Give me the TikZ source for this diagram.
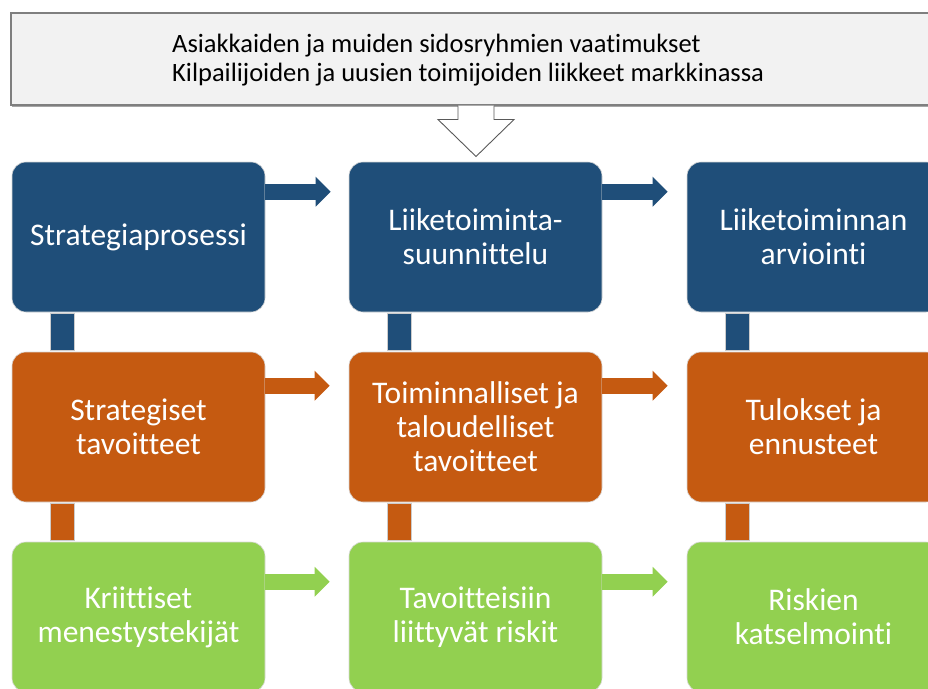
\documentclass[tikz,border=0pt]{standalone}
\usepackage{fontspec}
\setmainfont[Ligatures=NoCommon]{Carlito}
\usetikzlibrary{calc,arrows.meta}

\definecolor{planblue}{HTML}{1F4E79}
\definecolor{planorange}{HTML}{C55A11}
\definecolor{plangreen}{HTML}{92D050}
\definecolor{inputfill}{HTML}{F2F2F2}
\definecolor{inputline}{HTML}{7F7F7F}

\tikzset{
  stage/.style={rectangle, rounded corners=14pt, minimum width=253pt,
    minimum height=150pt, inner sep=0pt, draw=white!85!black, line width=0.6pt,
    text=white, align=center,
    font=\fontsize{31.5}{34}\selectfont},
  bluestage/.style={stage, fill=planblue},
  orangestage/.style={stage, fill=planorange},
  greenstage/.style={stage, fill=plangreen},
  flow/.style={line width=16pt, -{Triangle[length=15pt,width=29pt]}},
  link/.style={draw=white!80!black, line width=0.6pt},
}

\begin{document}
\begin{tikzpicture}[x=1pt,y=-1pt]
\useasboundingbox (0,0) rectangle (928,688);
\clip (0,0) rectangle (928,688);
\fill[white] (0,0) rectangle (928,688);

% input box with the external requirements
\fill[black!35] (12,104) rectangle (950,107);
\node[rectangle, fill=inputfill, draw=inputline, line width=1.5pt,
  minimum width=932pt, minimum height=92pt, inner sep=0pt, anchor=north west]
  (input) at (10,12) {};
\node[anchor=north west, inner sep=0pt, align=left,
  font=\fontsize{26.5}{29}\selectfont]
  (reqs) at (172,34)
  {Asiakkaiden ja muiden sidosryhmien vaatimukset\\
   Kilpailijoiden ja uusien toimijoiden liikkeet markkinassa};

% stage boxes: rows = blue / orange / green, columns = three phases
\node[bluestage]   (b1) at (138.5,237) {Strategiaprosessi};
\node[bluestage]   (b2) at (475.5,237) {Liiketoiminta-\\suunnittelu};
\node[bluestage]   (b3) at (813.5,237) {Liiketoiminnan\\arviointi};
\node[orangestage] (o1) at (138.5,427) {Strategiset\\tavoitteet};
\node[orangestage] (o2) at (475.5,427) {Toiminnalliset ja\\taloudelliset\\tavoitteet};
\node[orangestage] (o3) at (813.5,427) {Tulokset ja\\ennusteet};
\node[greenstage]  (g1) at (138.5,617) {Kriittiset\\menestystekijät};
\node[greenstage]  (g2) at (475.5,617) {Tavoitteisiin\\liittyvät riskit};
\node[greenstage]  (g3) at (813.5,617) {Riskien\\katselmointi};

% block arrow from the input box down to business planning
\coordinate (dtop) at ($(input.south west)+(466,0)$);
\filldraw[fill=white, draw=black!65, line width=0.9pt, line join=miter]
  ($(dtop)+(-18,0)$) -- ($(dtop)+(-18,14)$) -- ($(dtop)+(-38,14)$)
  -- ($(dtop)+(0,51)$) -- ($(dtop)+(38,14)$) -- ($(dtop)+(18,14)$)
  -- ($(dtop)+(18,0)$);

% horizontal flow arrows
\draw[flow, planblue]   ($(b1.north east)+(0,30)$) -- ($(b2.north west)+(-18,30)$);
\draw[flow, planblue]   ($(b2.north east)+(0,30)$) -- ($(b3.north west)+(-19,30)$);
\draw[flow, planorange] ($(o1.north east)+(0,34)$) -- ($(o2.north west)+(-19,34)$);
\draw[flow, planorange] ($(o2.north east)+(0,34)$) -- ($(o3.north west)+(-19,34)$);
\draw[flow, plangreen]  ($(g1.north east)+(0,40)$) -- ($(g2.north west)+(-19,40)$);
\draw[flow, plangreen]  ($(g2.north east)+(0,40)$) -- ($(g3.north west)+(-19,40)$);

% vertical links between the rows
\foreach \top/\bot/\col in {b1/o1/planblue, b2/o2/planblue, b3/o3/planblue,
                            o1/g1/planorange, o2/g2/planorange, o3/g3/planorange}{
  \filldraw[link, fill=\col] ($(\top.south west)+(39,1)$) rectangle ($(\bot.north west)+(63,-1)$);
}
\end{tikzpicture}
\end{document}
